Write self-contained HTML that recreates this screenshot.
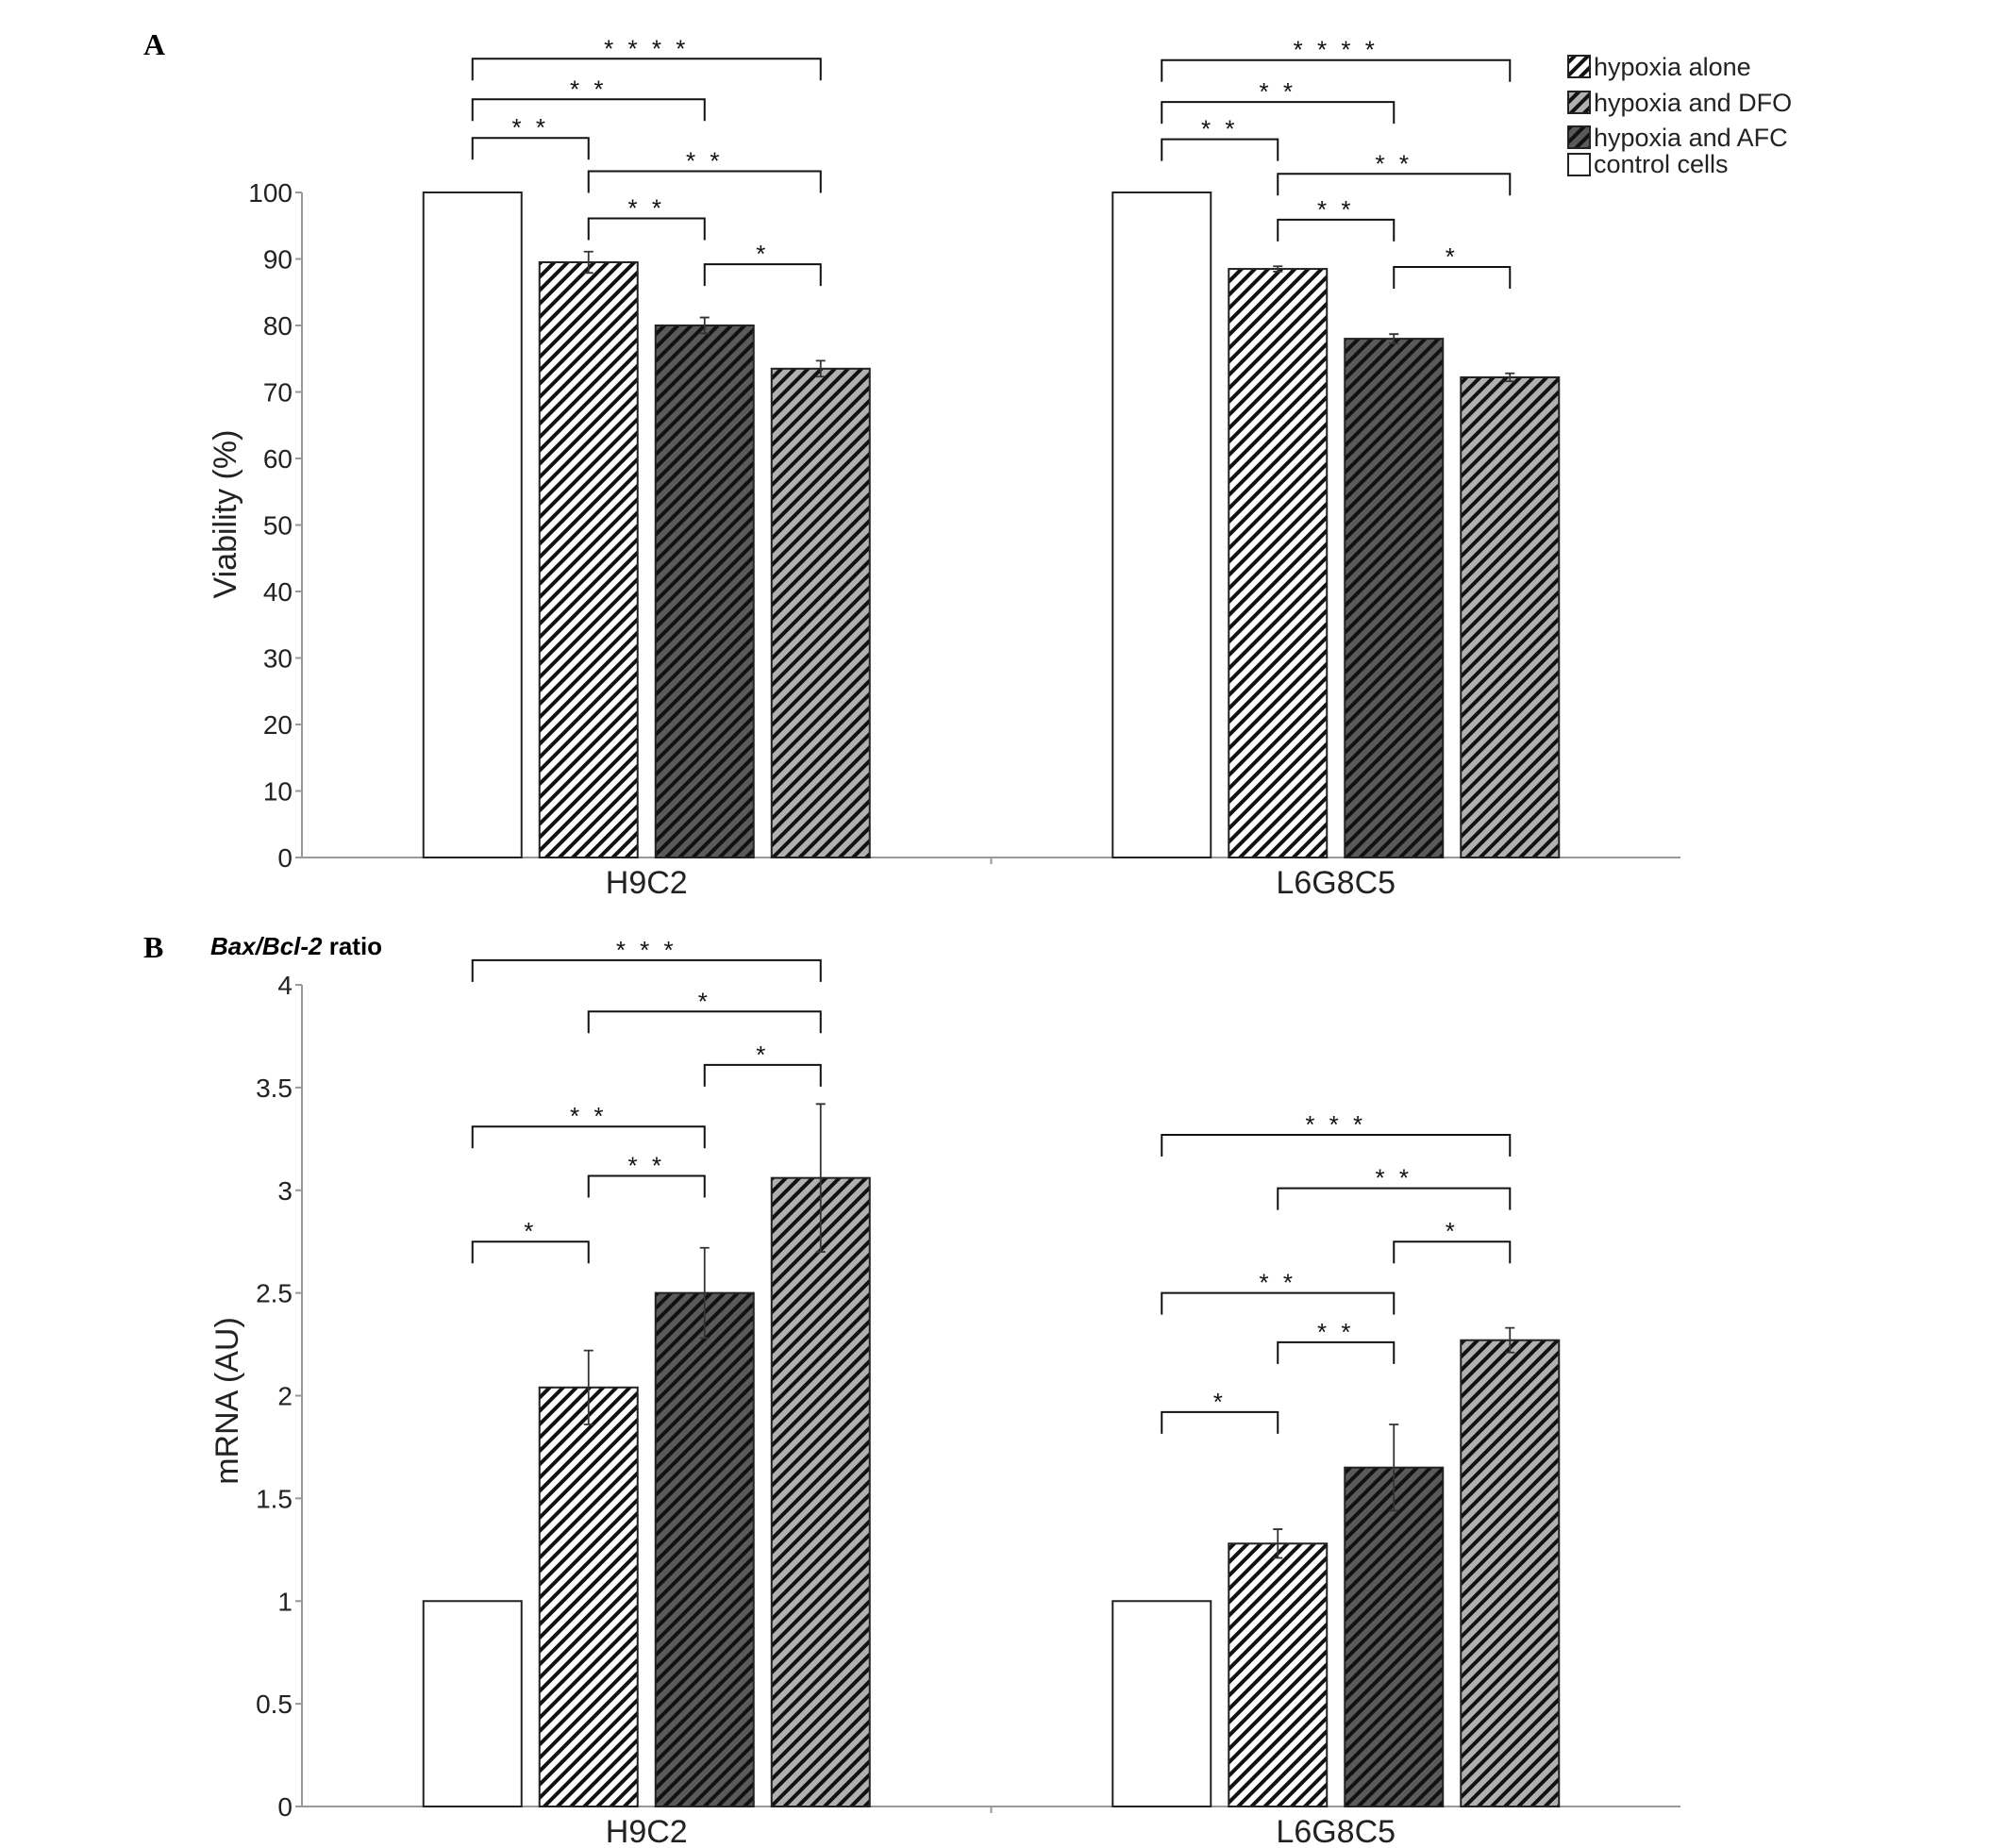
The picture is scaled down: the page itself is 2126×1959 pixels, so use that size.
<!DOCTYPE html>
<html><head><meta charset="utf-8"><style>
html,body{margin:0;padding:0;background:#fff}
svg{display:block;font-family:"Liberation Sans",sans-serif}
</style></head><body>
<svg id="c" width="2126" height="1959" viewBox="0 0 2126 1959" xmlns="http://www.w3.org/2000/svg">
<defs>
<pattern id="hW" patternUnits="userSpaceOnUse" width="10" height="10" patternTransform="rotate(45)"><rect width="10" height="10" fill="#fff"/><rect width="4" height="10" fill="#111"/></pattern>
<pattern id="hD" patternUnits="userSpaceOnUse" width="10" height="10" patternTransform="rotate(45)"><rect width="10" height="10" fill="#5a5a5a"/><rect width="4" height="10" fill="#111"/></pattern>
<pattern id="hG" patternUnits="userSpaceOnUse" width="10" height="10" patternTransform="rotate(45)"><rect width="10" height="10" fill="#b0b0b0"/><rect width="4" height="10" fill="#111"/></pattern>
</defs>
<text x="152" y="58" font-family="Liberation Serif" font-weight="bold" font-size="32">A</text>
<text x="152" y="1015" font-family="Liberation Serif" font-weight="bold" font-size="32">B</text>
<text x="223" y="1012" font-size="26" font-weight="bold"><tspan font-style="italic">Bax/Bcl-2</tspan> ratio</text>
<g>
<rect x="1662" y="59" width="23" height="23" fill="url(#hW)" stroke="#222" stroke-width="2"/>
<text x="1689" y="80" font-size="27" fill="#222">hypoxia alone</text>
<rect x="1662" y="97" width="23" height="23" fill="url(#hG)" stroke="#222" stroke-width="2"/>
<text x="1689" y="118" font-size="27" fill="#222">hypoxia and DFO</text>
<rect x="1662" y="134" width="23" height="23" fill="url(#hD)" stroke="#222" stroke-width="2"/>
<text x="1689" y="155" font-size="27" fill="#222">hypoxia and AFC</text>
<rect x="1662" y="163" width="23" height="23" fill="#fff" stroke="#222" stroke-width="2"/>
<text x="1689" y="183" font-size="27" fill="#222">control cells</text>
</g>
</svg>
<script>
// Panel A data
const categories = ['H9C2', 'L6G8C5'];
const aValues = [[100, 89.5, 80, 73.5], [100, 88.5, 78, 72.2]];
const aErrors = [[0, 1.6, 1.2, 1.2], [0, 0.4, 0.7, 0.6]];
const aTicks = [0, 10, 20, 30, 40, 50, 60, 70, 80, 90, 100];
// Panel B data
const bValues = [[1, 2.04, 2.5, 3.06], [1, 1.28, 1.65, 2.27]];
const bErrors = [[0, 0.18, 0.22, 0.36], [0, 0.07, 0.21, 0.06]];
const bTicks = [0, 0.5, 1, 1.5, 2, 2.5, 3, 3.5, 4];
const bTickLabels = ['0', '0.5', '1', '1.5', '2', '2.5', '3', '3.5', '4'];
// significance brackets: [group, barFrom, barTo, levelValue, stars]
const aBrackets = [[0,0,3,120.1,'* * * *'],[0,0,2,114.0,'* *'],[0,0,1,108.2,'* *'],[0,1,3,103.2,'* *'],[0,1,2,96.1,'* *'],[0,2,3,89.2,'*'],
                   [1,0,3,119.9,'* * * *'],[1,0,2,113.6,'* *'],[1,0,1,108.0,'* *'],[1,1,3,102.8,'* *'],[1,1,2,95.9,'* *'],[1,2,3,88.8,'*']];
const bBrackets = [[0,0,3,4.12,'* * *'],[0,1,3,3.87,'*'],[0,2,3,3.61,'*'],[0,0,2,3.31,'* *'],[0,1,2,3.07,'* *'],[0,0,1,2.75,'*'],
                   [1,0,3,3.27,'* * *'],[1,1,3,3.01,'* *'],[1,2,3,2.75,'*'],[1,0,2,2.50,'* *'],[1,1,2,2.26,'* *'],[1,0,1,1.92,'*']];
const fills = ['#fff', 'url(#hW)', 'url(#hD)', 'url(#hG)'];
const NS = 'http://www.w3.org/2000/svg';
const svg = document.getElementById('c');
function mk(tag, attrs, parent) { const e = document.createElementNS(NS, tag); for (const k in attrs) e.setAttribute(k, attrs[k]); (parent || svg).appendChild(e); return e; }

function panel(p) {
  const g = mk('g', {});
  
  
  const x0 = 320, x1 = 1781;
  const y = v => p.y0 - (v - p.min) / (p.max - p.min) * (p.y0 - p.yTop);
  const bandW = (x1 - x0) / categories.length;
  const barW = 104, step = 123;
  const barX = (gi, bi) => x0 + bandW * (gi + 0.5) - (step * 1.5) - barW / 2 + step * bi;
  const ya = mk('line', {x1: x0, y1: p.yTop, x2: x0, y2: p.y0, stroke: '#999', 'stroke-width': 2}, g);
   
  const xa = mk('line', {x1: x0, y1: p.y0, x2: x1, y2: p.y0, stroke: '#999', 'stroke-width': 2}, g);
   
  const mt = mk('line', {x1: (x0 + x1) / 2, y1: p.y0, x2: (x0 + x1) / 2, y2: p.y0 + 7, stroke: '#999', 'stroke-width': 2}, g);
   
  p.ticks.forEach((t, i) => {
    const tk = mk('line', {x1: x0 - 7, y1: y(t), x2: x0, y2: y(t), stroke: '#999', 'stroke-width': 2}, g);
     
    const tl = mk('text', {x: x0 - 10, y: y(t) + 10, 'text-anchor': 'end', 'font-size': 28, fill: '#222'}, g);
    tl.textContent = p.labels[i];
     
  });
  const yt = mk('text', {x: 0, y: 0, 'text-anchor': 'middle', 'font-size': 34, fill: '#222', transform: `translate(${p.titleX},${p.titleY}) rotate(-90)`}, g);
  yt.textContent = p.title;
   
  categories.forEach((c, gi) => {
    const cl = mk('text', {x: x0 + bandW * (gi + 0.5), y: p.y0 + 38, 'text-anchor': 'middle', 'font-size': 34, fill: '#222'}, g);
    cl.textContent = c;
     
    p.values[gi].forEach((v, bi) => {
      const bx = barX(gi, bi);
      const r = mk('rect', {x: bx, y: y(v), width: barW, height: p.y0 - y(v), fill: fills[bi], stroke: '#222', 'stroke-width': 2}, g);
      
      
      const e = p.errors[gi][bi];
      if (e > 0) {
        const cx = bx + barW / 2;
        const eb = mk('path', {d: `M${cx},${y(v + e)}V${y(v - e)}M${cx - 5},${y(v + e)}H${cx + 5}M${cx - 5},${y(v - e)}H${cx + 5}`, stroke: '#333', 'stroke-width': 1.8, fill: 'none'}, g);
         
      }
    });
  });
  p.brackets.forEach(b => {
    const [gi, a, c, lv, s] = b;
    const xa1 = barX(gi, a) + barW / 2, xc = barX(gi, c) + barW / 2, yy = y(lv);
    const br = mk('path', {d: `M${xa1},${yy + 23}V${yy}H${xc}V${yy + 23}`, stroke: '#111', 'stroke-width': 2, fill: 'none'}, g);
     
    const st = mk('text', {x: (xa1 + xc) / 2, y: yy - 2, 'text-anchor': 'middle', 'font-size': 26, fill: '#111', 'xml:space': 'preserve', 'letter-spacing': 4}, g);
    st.textContent = s;
     
  });
}
panel({name: 'panel-a-viability', values: aValues, errors: aErrors, ticks: aTicks, labels: aTicks.map(String), min: 0, max: 100, y0: 909, yTop: 204, title: 'Viability (%)', titleX: 250, titleY: 545, brackets: aBrackets});
panel({name: 'panel-b-bax-bcl2', values: bValues, errors: bErrors, ticks: bTicks, labels: bTickLabels, min: 0, max: 4, y0: 1915, yTop: 1044, title: 'mRNA (AU)', titleX: 252, titleY: 1485, brackets: bBrackets});
</script>
</body></html>
